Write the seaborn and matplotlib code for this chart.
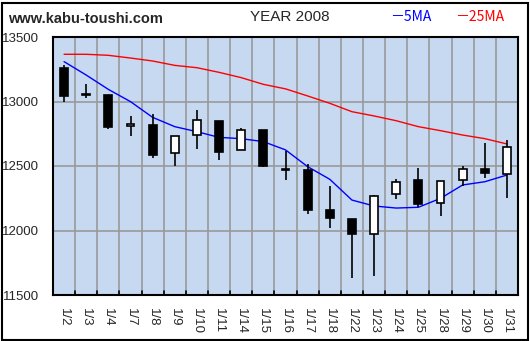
import matplotlib
matplotlib.use("Agg")
import matplotlib.pyplot as plt
import seaborn as sns
import numpy as np
import pandas as pd
from matplotlib.patches import Rectangle

dates = ["1/2", "1/3", "1/4", "1/7", "1/8", "1/9", "1/10", "1/11", "1/14", "1/15", "1/16",
         "1/17", "1/18", "1/22", "1/23", "1/24", "1/25", "1/28", "1/29", "1/30", "1/31"]
opens = [13260, 13060, 13050, 12808, 12815, 12598, 12738, 12849, 12622, 12782, 12476,
         12469, 12160, 12089, 11975, 12281, 12391, 12211, 12389, 12476, 12440]
highs = [13285, 13135, 13050, 12888, 12903, 12735, 12934, 12849, 12792, 12782, 12620,
         12513, 12345, 12089, 12275, 12399, 12485, 12381, 12502, 12676, 12702]
lows = [12995, 13030, 12790, 12735, 12565, 12503, 12634, 12549, 12622, 12495, 12390,
        12131, 12020, 11635, 11647, 12247, 12182, 12115, 12345, 12410, 12254]
closes = [13045, 13050, 12805, 12825, 12588, 12730, 12854, 12611, 12779, 12500, 12474,
          12159, 12100, 11975, 12267, 12374, 12208, 12381, 12474, 12448, 12645]
ma5 = [13309, 13205, 13094, 12999, 12877, 12805, 12766, 12722, 12712, 12689, 12625,
       12495, 12397, 12236, 12190, 12174, 12180, 12249, 12353, 12378, 12430]
ma25 = [13366, 13366, 13358, 13337, 13314, 13280, 13262, 13226, 13185, 13133, 13098,
        13043, 12986, 12921, 12888, 12851, 12805, 12774, 12740, 12712, 12671]
yticks = [11500, 12000, 12500, 13000, 13500]

df = pd.DataFrame({"i": np.arange(len(dates)), "date": dates, "open": opens, "high": highs,
                   "low": lows, "close": closes, "ma5": ma5, "ma25": ma25})

sns.set_style("white")
plt.rcParams["font.family"] = ["Liberation Sans", "DejaVu Sans"]

fig = plt.figure(figsize=(5.3, 3.41), dpi=100)
ax = fig.add_axes([53 / 530, 1 - 295 / 341, 465 / 530, 258 / 341])
ax.set_facecolor("#C6D9F1")

n = len(dates)
ax.set_xlim(-0.5, n - 0.5)
ax.set_ylim(11500, 13500)

# grid
for k in range(n - 1):
    ax.axvline(k + 0.5, color="#999999", lw=1.2, zorder=1)
for v in yticks[1:-1]:
    ax.axhline(v, color="#999999", lw=1.2, zorder=1)

# moving averages
sns.lineplot(data=df, x="i", y="ma25", color="#FF0000", lw=1, ax=ax, zorder=3)
sns.lineplot(data=df, x="i", y="ma5", color="#0000FF", lw=1, ax=ax, zorder=3)

# candles
w = 0.36
for _, r in df.iterrows():
    ax.vlines(r["i"], r["low"], r["high"], color="black", lw=1.2, zorder=4)
    lo, hi = min(r["open"], r["close"]), max(r["open"], r["close"])
    h = max(hi - lo, 8)
    up = r["close"] >= r["open"]
    ax.add_patch(Rectangle((r["i"] - w / 2, lo if hi - lo >= 8 else lo - 4), w, h,
                           facecolor="white" if up else "black", edgecolor="black",
                           lw=1.2, zorder=5))

ax.set_xlabel("")
ax.set_ylabel("")
ax.set_yticks(yticks)
ax.set_yticklabels([str(v) for v in yticks], fontsize=9.5)
ax.tick_params(axis="y", length=0, pad=10)
ax.set_xticks(np.arange(n))
ax.set_xticklabels(dates, rotation=270, fontsize=9.5, va="top", ha="center")
ax.tick_params(axis="x", length=0, pad=9)
# inward ticks on bottom at grid boundaries
for k in range(n - 1):
    ax.plot([k + 0.5, k + 0.5], [11500, 11530], color="black", lw=1.2, zorder=6, clip_on=False)

for s in ax.spines.values():
    s.set_color("black")
    s.set_linewidth(1.5)
    s.set_visible(True)

fig.text(8 / 530, 1 - 19 / 341, "www.kabu-toushi.com", fontsize=10.5, fontweight="bold",
         va="center", ha="left")
fig.text(290 / 530, 1 - 17 / 341, "YEAR 2008", fontsize=11, va="center", ha="center")
fig.text(390 / 530, 1 - 17 / 341, "－5MA", fontsize=10, color="#0000FF", va="center", ha="left",
         family=["Noto Sans CJK JP", "DejaVu Sans"])
fig.text(455 / 530, 1 - 17 / 341, "－25MA", fontsize=10, color="#FF0000", va="center", ha="left",
         family=["Noto Sans CJK JP", "DejaVu Sans"])

fig.patches.append(Rectangle((1.5 / 530, 1.5 / 341), 526 / 530, 337 / 341, transform=fig.transFigure,
                             fill=False, edgecolor="black", lw=1.5))

fig.savefig("out.png", dpi=100)
